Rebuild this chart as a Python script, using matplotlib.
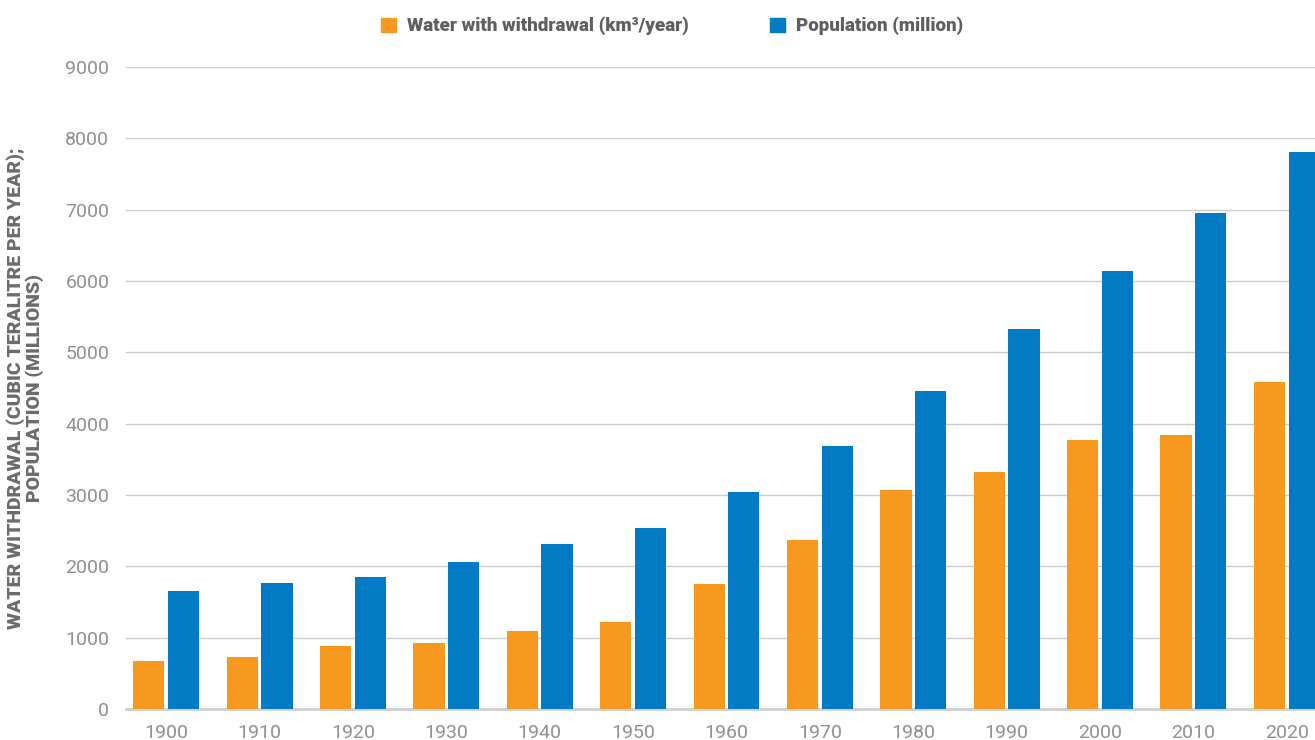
import numpy as np
import matplotlib.pyplot as plt
from matplotlib.patches import Patch

years = ['1900', '1910', '1920', '1930', '1940', '1950', '1960',
         '1970', '1980', '1990', '2000', '2010', '2020']
water = [675, 730, 885, 925, 1095, 1220, 1755, 2370, 3070, 3325, 3775, 3845, 4585]
population = [1655, 1765, 1850, 2060, 2310, 2535, 3040, 3690, 4460, 5330, 6140, 6955, 7810]

orange = '#F7991E'
blue = '#027BC4'

plt.rcParams['font.family'] = ['Roboto', 'DejaVu Sans']

fig = plt.figure(figsize=(13.15, 7.4), dpi=100)
ax = fig.add_axes([126 / 1315, 31 / 740, 1201 / 1315, 642 / 740])

x = np.arange(len(years))
w = 0.335
ax.bar(x - w / 2 - 0.018, water, w, color=orange, zorder=3)
ax.bar(x + w / 2 + 0.018, population, w, color=blue, zorder=3)

ax.set_xlim(-0.43, 12.43)
ax.set_ylim(0, 9000)
ax.set_yticks(range(0, 9001, 1000))
ax.set_xticks(x)
ax.set_xticklabels(years)
ax.yaxis.grid(True, color='#cccccc', linewidth=1, zorder=0)
ax.tick_params(axis='both', length=0, labelsize=14, labelcolor='#909090')
ax.tick_params(axis='y', pad=12)
ax.tick_params(axis='x', pad=11)
for s in ['top', 'right', 'left']:
    ax.spines[s].set_visible(False)
ax.spines['bottom'].set_color('#cfcfcf')
ax.spines['bottom'].set_linewidth(2)

fig.text(25 / 1315, 1 - 388 / 740,
         'WATER WITHDRAWAL (CUBIC TERALITRE PER YEAR);\nPOPULATION (MILLIONS)',
         rotation=90, ha='center', va='center', fontsize=14, fontweight='black',
         color='#6b6b6b', linespacing=1.05)

handles = [Patch(color=orange, label='Water with withdrawal (km³/year)'),
           Patch(color=blue, label='Population (million)')]
leg = fig.legend(handles=handles, loc='center', bbox_to_anchor=(672 / 1315, 1 - 26 / 740),
                 ncol=2, frameon=False, fontsize=13.5, handlelength=0.8, handleheight=0.8,
                 handletextpad=0.6, columnspacing=4.3)
for t in leg.get_texts():
    t.set_fontweight('black')
    t.set_color('#5f5f5f')

fig.savefig('out.png', dpi=100)
